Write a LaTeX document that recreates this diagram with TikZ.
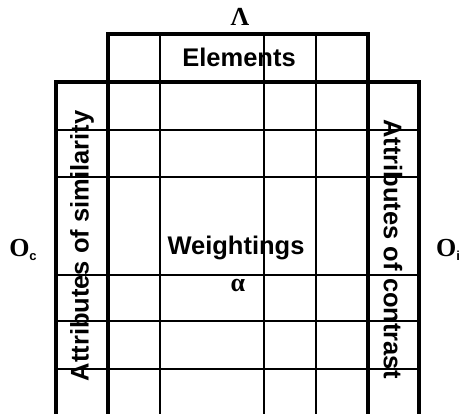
\documentclass[tikz,border=0pt]{standalone}
\usepackage{fontspec}
\setmainfont{Liberation Serif}
\setsansfont{Liberation Sans}
\begin{document}
\begin{tikzpicture}[x=1pt,y=-1pt,
  thickline/.style={line width=3.6pt},
  thinline/.style={line width=2.4pt},
  lbl/.style={font=\sffamily\bfseries\fontsize{25.5}{27}\selectfont,inner sep=0pt},
  sym/.style={font=\bfseries\fontsize{26}{28}\selectfont,inner sep=0pt,anchor=base}]
 \useasboundingbox (0,0) rectangle (459,414);
 % labels
 \node[sym] (lambda) at (240,26) {Λ};
 \node[lbl,anchor=base] (elements) at (239,67) {Elements};
 \node[lbl,anchor=base] (weight) at (236,255) {Weightings};
 \node[sym] (alpha) at (238,292) {α};
 \node[lbl,rotate=90] (simil) at (82,246) {Attributes of similarity};
 \node[lbl,rotate=-90] (contr) at (393,249) {Attributes of contrast};
 \node[sym] (oc) at (23,257) {O\raisebox{-0.3ex}{\sffamily\fontsize{13}{13}\selectfont c}};
 \node[sym] (oi) at (448,257) {O\raisebox{-0.3ex}{\sffamily\fontsize{13}{13}\selectfont i}};
 % thin grid lines
 \foreach \x in {160,264,316} \draw[thinline] (\x,34)--(\x,414);
 \foreach \y in {130,177,275,321,369} \draw[thinline] (56,\y)--(419,\y);
 % thick borders
 \draw[thickline] (108,414)--(108,34)--(368,34)--(368,414);
 \draw[thickline] (56,414)--(56,82)--(419,82)--(419,414);
\end{tikzpicture}
\end{document}
